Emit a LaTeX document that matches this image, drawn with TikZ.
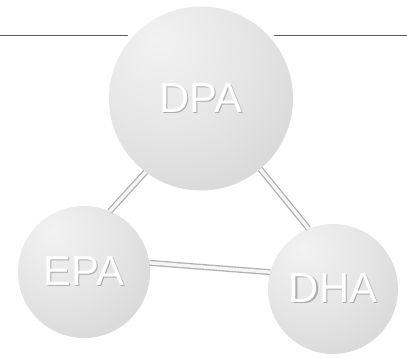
\documentclass[tikz,border=0pt]{standalone}
\usepackage{fontspec}
\setmainfont{Liberation Sans}
\usepackage{tikz}

% Shading of the spheres, light spot up left
\pgfdeclareradialshading{sphere}{\pgfpoint{-12bp}{16bp}}{%
  color(0bp)=(gray!10); color(22bp)=(gray!20); color(45bp)=(gray!34);
  color(62bp)=(gray!48); color(100bp)=(gray!52)}

\newcommand{\balltext}[1]{\makebox[0pt][l]{\hspace{1.2bp}\raisebox{-1.2bp}{\color{gray!65}#1}}#1}

\tikzset{
  ball/.style={circle, inner sep=0pt, outer sep=0pt, shading=sphere,
               text=white, font=\fontsize{42}{42}\selectfont},
  halo/.style={preaction={draw=white, line width=9bp}},
  rod/.style={draw=gray!62, line width=1.3bp, double=gray!8, double distance=3.4bp}
}

\begin{document}
\begin{tikzpicture}[x=1bp,y=-1bp]
                              \useasboundingbox (0,0) rectangle (407,358);

                              % Rule at the top
                              \draw[black!65,line width=0.8bp] (0,35) -- (407,35);

                              % Spheres
                              \node[ball,halo,minimum size=184bp] (dpa) at (201,98.5) {\balltext{DPA}};
                              \node[ball,minimum size=132bp] (epa) at (84,272) {\balltext{EPA}};
                              \node[ball,minimum size=130bp] (dha) at (333,289) {\balltext{DHA}};

                              % Rods
                              \draw[rod] (dpa.233) -- (epa.67);
                              \draw[rod] (dpa.310) -- (dha.112);
                              \draw[rod] (epa.8) -- (dha.165);
                        \end{tikzpicture}
\end{document}
